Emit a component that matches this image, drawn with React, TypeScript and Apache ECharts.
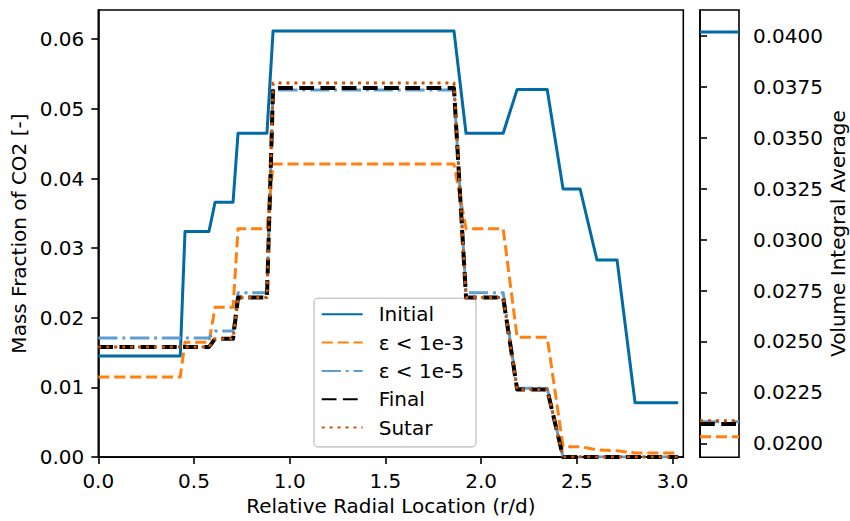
import React, { useEffect, useRef } from "react";
import * as echarts from "echarts";

// Radial sample locations (r/d)
const radialLocation = [0, 0.428, 0.453, 0.578, 0.61, 0.704, 0.73, 0.881, 0.913, 1.858, 1.921, 2.115, 2.188, 2.345, 2.428, 2.517, 2.605, 2.71, 2.804, 3.029];

// Mass fraction of CO2 for each case
const initialValues = [0.0145, 0.0145, 0.0324, 0.0324, 0.0366, 0.0366, 0.0465, 0.0465, 0.0612, 0.0612, 0.0465, 0.0465, 0.0528, 0.0528, 0.0385, 0.0385, 0.0283, 0.0283, 0.0078, 0.0078];
const eps1e3Values = [0.0115, 0.0115, 0.0165, 0.0165, 0.0215, 0.0215, 0.0328, 0.0328, 0.0421, 0.0421, 0.0328, 0.0328, 0.0172, 0.0172, 0.0015, 0.0015, 0.00105, 0.0009, 0.0006, 0.0006];
const eps1e5Values = [0.0171, 0.0171, 0.0171, 0.0171, 0.0181, 0.0181, 0.0236, 0.0236, 0.0527, 0.0527, 0.0236, 0.0236, 0.0099, 0.0099, 0, 0, 0, 0, 0, 0];
const finalValues = [0.0158, 0.0158, 0.0158, 0.0158, 0.017, 0.017, 0.0229, 0.0229, 0.053, 0.053, 0.0229, 0.0229, 0.0097, 0.0097, 0, 0, 0, 0, 0, 0];
const sutarValues = [0.0158, 0.0158, 0.0158, 0.0158, 0.017, 0.017, 0.0229, 0.0229, 0.0537, 0.0537, 0.0229, 0.0229, 0.0097, 0.0097, 0, 0, 0, 0, 0, 0];

// Volume integral averages
const seriesNames = ["Initial", "ε < 1e-3", "ε < 1e-5", "Final", "Sutar"];
const volumeAverages = [0.0402, 0.02032, 0.02105, 0.02095, 0.02111];

// Tick values
const xTicks = [0, 0.5, 1, 1.5, 2, 2.5, 3];
const yTicks = [0, 0.01, 0.02, 0.03, 0.04, 0.05, 0.06];
const avgTicks = [0.02, 0.0225, 0.025, 0.0275, 0.03, 0.0325, 0.035, 0.0375, 0.04];

const FONT = "DejaVu Sans";

const styles = [
  { color: "#006BA4", width: 3, type: "solid" as any },
  { color: "#FF800E", width: 3, type: [11.1, 4.8] as any },
  { color: "#5F9ED1", width: 3, type: [19.2, 4.8, 3, 4.8] as any },
  { color: "#000000", width: 4, type: [14.8, 6.4] as any },
  { color: "#C85200", width: 3, type: [3, 4.95] as any },
];

export default function App() {
  const ref = useRef<HTMLDivElement>(null);
  useEffect(() => {
    if (!ref.current) return;
    const chart = echarts.init(ref.current, undefined, { renderer: "svg" });
    const profiles = [initialValues, eps1e3Values, eps1e5Values, finalValues, sutarValues];
    const lineSeries = profiles.map((vals, i) => ({
      name: seriesNames[i],
      type: "line",
      xAxisIndex: 0,
      yAxisIndex: 0,
      symbol: "circle",
      showSymbol: false,
      silent: true,
      data: radialLocation.map((x, k) => [x, vals[k]]),
      lineStyle: { ...styles[i], cap: "butt", join: "round" },
      itemStyle: { color: styles[i].color },
      z: 2 + i,
    }));
    const avgSeries = volumeAverages.map((v, i) => ({
      name: seriesNames[i],
      type: "line",
      xAxisIndex: 1,
      yAxisIndex: 1,
      symbol: "none",
      silent: true,
      data: [[0, v], [1, v]],
      lineStyle: { ...styles[i], cap: "butt" },
      itemStyle: { color: styles[i].color },
      z: 2 + i,
    }));
    const tickStyle = { show: true, inside: false, length: 7, lineStyle: { color: "#000", width: 1.6 } };
    const labelStyle = { color: "#000", fontSize: 20, fontFamily: FONT, margin: 14 };
    const nameStyle = { color: "#000", fontSize: 20, fontFamily: FONT };
    chart.setOption({
      animation: false,
      backgroundColor: "#fff",
      grid: [
        { left: 98.3, top: 10, width: 585, height: 447.3, show: true, borderColor: "#000", borderWidth: 1.6, backgroundColor: "transparent" },
        { left: 700, top: 10, width: 39, height: 447.3, show: true, borderColor: "#000", borderWidth: 1.6, backgroundColor: "transparent" },
      ],
      xAxis: [
        {
          gridIndex: 0,
          type: "value",
          min: 0,
          max: 3.056,
          axisLine: { show: true, lineStyle: { color: "#000", width: 1.6 } },
          axisTick: { ...tickStyle, customValues: xTicks },
          axisLabel: { ...labelStyle, customValues: xTicks, formatter: (v: number) => v.toFixed(1) },
          splitLine: { show: false },
          name: "Relative Radial Location (r/d)",
          nameLocation: "middle",
          nameGap: 38,
          nameTextStyle: nameStyle,
        },
        {
          gridIndex: 1,
          type: "value",
          min: 0,
          max: 1,
          axisLine: { show: false },
          axisTick: { show: false },
          axisLabel: { show: false },
          splitLine: { show: false },
        },
      ],
      yAxis: [
        {
          gridIndex: 0,
          type: "value",
          min: 0,
          max: 0.0642,
          axisLine: { show: true, lineStyle: { color: "#000", width: 1.6 } },
          axisTick: { ...tickStyle, customValues: yTicks },
          axisLabel: { ...labelStyle, customValues: yTicks, formatter: (v: number) => v.toFixed(2) },
          splitLine: { show: false },
          name: "Mass Fraction of CO2 [-]",
          nameLocation: "middle",
          nameRotate: 90,
          nameGap: 61,
          nameTextStyle: nameStyle,
        },
        {
          gridIndex: 1,
          type: "value",
          position: "right",
          min: 0.01931,
          max: 0.04128,
          axisLine: { show: true, lineStyle: { color: "#000", width: 1.6 } },
          axisTick: { ...tickStyle, customValues: avgTicks },
          axisLabel: { ...labelStyle, customValues: avgTicks, formatter: (v: number) => v.toFixed(4) },
          splitLine: { show: false },
          name: "Volume Integral Average",
          nameLocation: "middle",
          nameRotate: 90,
          nameGap: 89,
          nameTextStyle: nameStyle,
        },
      ],
      legend: {
        data: seriesNames,
        orient: "vertical",
        left: 314,
        top: 298.3,
        padding: [6, 12, 9.4, 6.7],
        itemWidth: 41,
        itemHeight: 20,
        itemGap: 8.3,
        backgroundColor: "rgba(255,255,255,0.8)",
        borderColor: "#cccccc",
        borderWidth: 1.6,
        borderRadius: 4,
        selectedMode: false,
        itemStyle: { opacity: 0, borderWidth: 0 },
        textStyle: { color: "#000", fontSize: 20, fontFamily: FONT, lineHeight: 20, padding: [0, 0, 0, 11] },
      },
      series: [...lineSeries, ...avgSeries],
    });
    return () => chart.dispose();
  }, []);
  return <div ref={ref} style={{ position: "absolute", left: 0, top: 0, width: 850, height: 521 }} />;
}
